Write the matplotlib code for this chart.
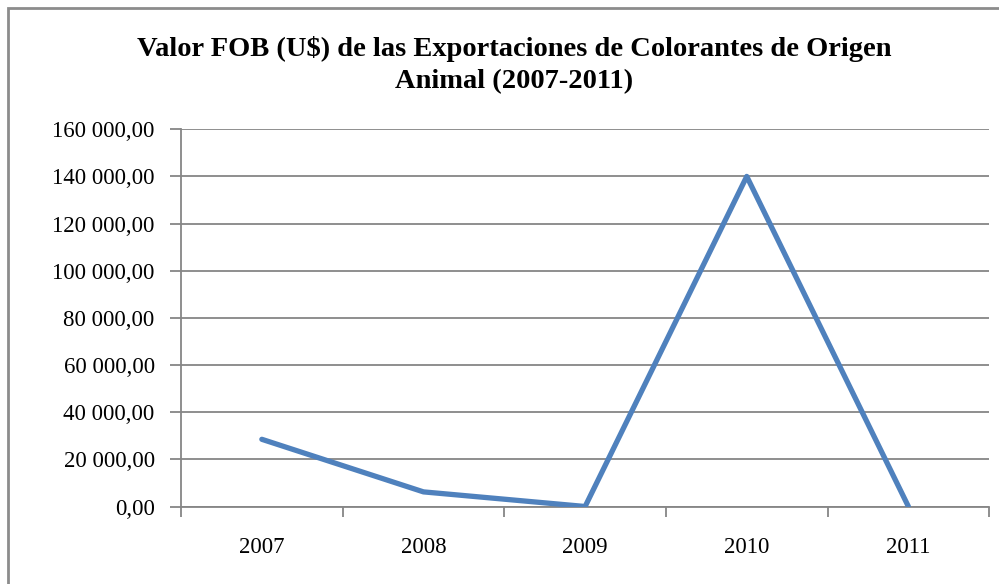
import matplotlib.pyplot as plt
import matplotlib.patches as patches
from matplotlib.ticker import FuncFormatter, FixedLocator

years = ['2007', '2008', '2009', '2010', '2011']
fob = [28500, 6200, 0, 140000, 0]
y_ticks = [0, 20000, 40000, 60000, 80000, 100000, 120000, 140000, 160000]

plt.rcParams['font.family'] = 'Liberation Serif'

fig = plt.figure(figsize=(9.99, 5.84), dpi=100)
ax = fig.add_axes([0.1812, 0.1327, 0.809, 0.646])

x = list(range(len(years)))
ax.plot(x, fob, color='#4F81BD', linewidth=3.8, solid_capstyle='round', zorder=3)

ax.set_xlim(-0.5, len(years) - 0.5)
ax.set_ylim(0, 160000)

def fmt(v, pos):
    s = f'{v:,.2f}'.replace(',', ' ').replace('.', ',')
    return s

ax.yaxis.set_major_locator(FixedLocator(y_ticks))
ax.yaxis.set_major_formatter(FuncFormatter(fmt))
ax.grid(axis='y', color='#868686', linewidth=1.3)
ax.set_axisbelow(True)

ax.xaxis.set_major_locator(FixedLocator([i - 0.5 for i in range(len(years) + 1)]))
ax.xaxis.set_major_formatter(FuncFormatter(lambda v, p: ''))
ax.xaxis.set_minor_locator(FixedLocator(x))
ax.set_xticklabels(years, minor=True)
ax.tick_params(axis='x', which='minor', length=0, pad=22, labelsize=16.5)
ax.tick_params(axis='x', which='major', length=7, width=1.3, color='#868686')
ax.tick_params(axis='y', length=8, width=1.3, color='#868686', labelsize=16.5, pad=11)

for side in ['top', 'right']:
    ax.spines[side].set_visible(False)
for side in ['left', 'bottom']:
    ax.spines[side].set_color('#868686')
    ax.spines[side].set_linewidth(1.3)

fig.text(0.5145, 0.888, 'Valor FOB (U$) de las Exportaciones de Colorantes de Origen\nAnimal (2007-2011)',
         ha='center', va='center', fontsize=20.5, fontweight='bold', linespacing=1.38)

fig.patches.append(patches.Rectangle((8 / 999, -0.1), 1.1, 1 - 8 / 584 + 0.1,
                                     transform=fig.transFigure, fill=False,
                                     edgecolor='#8c8c8c', linewidth=2))

fig.savefig('out.png', dpi=100)
